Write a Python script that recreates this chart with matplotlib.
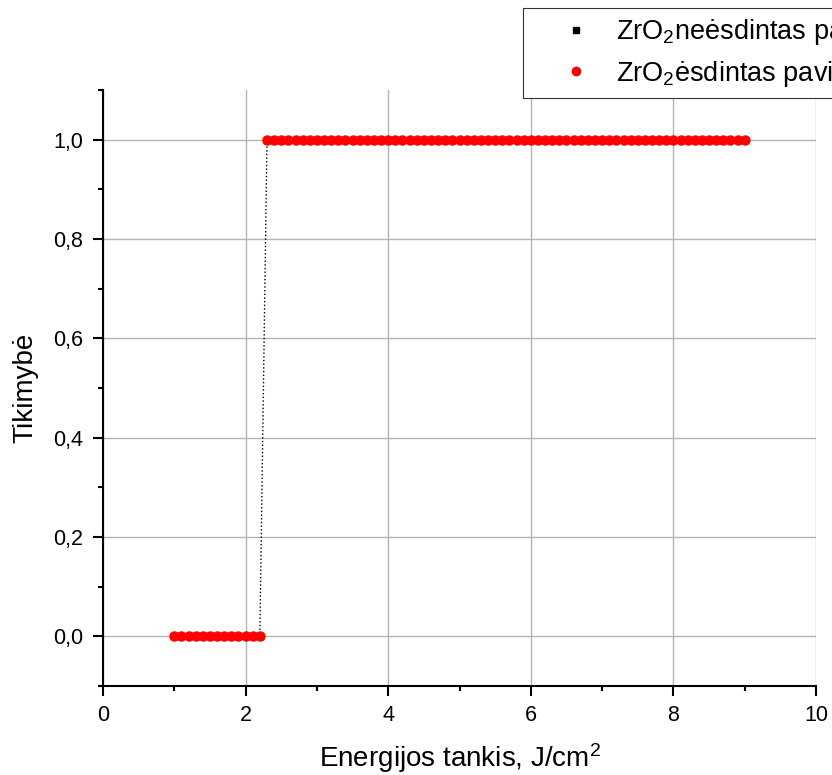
import matplotlib.pyplot as plt
import numpy as np
from matplotlib.lines import Line2D
from matplotlib.ticker import MultipleLocator, FuncFormatter

plt.rcParams['font.family'] = ['Liberation Sans', 'DejaVu Sans']
plt.rcParams['mathtext.fontset'] = 'custom'
plt.rcParams['mathtext.rm'] = 'Liberation Sans'
plt.rcParams['mathtext.it'] = 'Liberation Sans:italic'

# energy density, J/cm2, and probability for both samples
x_low = np.round(np.arange(1.0, 2.21, 0.1), 2)
x_high = np.round(np.arange(2.3, 9.01, 0.1), 2)
energy = np.concatenate([x_low, x_high])
p_unetched = np.concatenate([np.zeros(len(x_low)), np.ones(len(x_high))])
p_etched = np.concatenate([np.zeros(len(x_low)), np.ones(len(x_high))])

labels = ['ZrO$_2$neėsdintas paviršius', 'ZrO$_2$ėsdintas paviršius']

fig = plt.figure(figsize=(8.32, 7.75), dpi=100)
ax = fig.add_axes([0.1238, 0.1148, 0.857, 0.7691])

ax.plot(energy, p_unetched, ls=':', lw=1, color='black',
        marker='s', ms=4, zorder=3)
ax.plot(energy, p_etched, ls='none', color='red',
        marker='o', ms=6.5, zorder=4)

ax.set_xlim(0, 10)
ax.set_ylim(-0.1, 1.1)
ax.xaxis.set_major_locator(MultipleLocator(2))
ax.xaxis.set_minor_locator(MultipleLocator(1))
ax.yaxis.set_major_locator(MultipleLocator(0.2))
ax.yaxis.set_minor_locator(MultipleLocator(0.1))
ax.yaxis.set_major_formatter(FuncFormatter(lambda v, p: f'{v:.1f}'.replace('.', ',')))
ax.grid(True, which='major', color='#b4b4b4', lw=1)
ax.set_axisbelow(True)

for s in ['top', 'right']:
    ax.spines[s].set_visible(False)
for s in ['left', 'bottom']:
    ax.spines[s].set_linewidth(1.5)
ax.tick_params(which='major', direction='out', length=7, width=1.5, labelsize=15.5)
ax.tick_params(axis='x', which='major', pad=6.5)
ax.tick_params(axis='y', which='major', pad=7.5)
ax.tick_params(which='minor', direction='out', length=3.5, width=1.5)

ax.set_xlabel('Energijos tankis, J/cm$^2$', fontsize=20, labelpad=11)
ax.set_ylabel('Tikimybė', fontsize=20, labelpad=10)

handles = [Line2D([], [], ls='none', marker='s', color='black', ms=5),
           Line2D([], [], ls='none', marker='o', color='red', ms=6)]
leg = fig.legend(handles, labels, loc='upper left',
                 bbox_to_anchor=(523 / 832, 1 - 8 / 775),
                 borderaxespad=0, fontsize=19.5, frameon=True, fancybox=False,
                 edgecolor='#333333', framealpha=1, borderpad=0.35,
                 handlelength=3.2, handletextpad=-0.1, labelspacing=0.42)
leg.get_frame().set_linewidth(0.8)

fig.savefig('out.png', dpi=100)
